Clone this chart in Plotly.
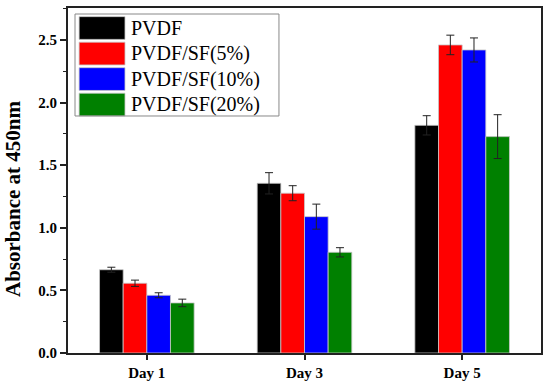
import plotly.graph_objects as go

days = ["Day 1", "Day 3", "Day 5"]
series_names = ["PVDF", "PVDF/SF(5%)", "PVDF/SF(10%)", "PVDF/SF(20%)"]
colors = ["#000000", "#ff0000", "#0000ff", "#008000"]
pvdf = [0.665, 1.355, 1.818]
pvdf_sf5 = [0.557, 1.276, 2.46]
pvdf_sf10 = [0.461, 1.089, 2.42]
pvdf_sf20 = [0.40, 0.804, 1.728]
err_pvdf = [0.02, 0.085, 0.077]
err_sf5 = [0.025, 0.06, 0.078]
err_sf10 = [0.02, 0.10, 0.096]
err_sf20 = [0.03, 0.037, 0.175]
y_ticks = [0.0, 0.5, 1.0, 1.5, 2.0, 2.5]

values = [pvdf, pvdf_sf5, pvdf_sf10, pvdf_sf20]
errors = [err_pvdf, err_sf5, err_sf10, err_sf20]

FONT = "Liberation Serif, Times New Roman, serif"

fig = go.Figure()
for name, col, v, e in zip(series_names, colors, values, errors):
    fig.add_trace(go.Bar(
        x=days, y=v, name=name,
        marker=dict(color=col, line=dict(color="#c8c8c8", width=0.8)),
        error_y=dict(type="data", array=e, visible=True, color="#222222",
                     thickness=1, width=4),
        showlegend=False,
    ))

# Manual legend (large colour patches like the original)
row_h = 0.074
top = 0.975
for i, (name, col) in enumerate(zip(series_names, colors)):
    y1 = top - i * row_h
    y0 = y1 - 0.066
    fig.add_shape(type="rect", xref="paper", yref="paper",
                  x0=0.0235, x1=0.1205, y0=y0, y1=y1,
                  fillcolor=col, line=dict(color="#c8c8c8", width=0.8))
    fig.add_annotation(xref="paper", yref="paper", x=0.128, y=(y0 + y1) / 2,
                       text=name, showarrow=False, xanchor="left", yanchor="middle",
                       font=dict(family=FONT, size=20, color="#000000"))
fig.add_shape(type="rect", xref="paper", yref="paper",
              x0=0.0148, x1=0.446, y0=0.687, y1=0.9826,
              line=dict(color="#888888", width=1), fillcolor="rgba(0,0,0,0)")

# Y-axis title (placed as in the original, slightly below centre)
fig.add_annotation(xref="paper", yref="paper", x=-0.1165, y=0.449,
                   text="<b>Absorbance at 450nm</b>", textangle=-90, showarrow=False,
                   xanchor="center", yanchor="middle",
                   font=dict(family=FONT, size=21, color="#000000"))

fig.update_layout(
    width=554, height=387,
    margin=dict(l=68, r=13, t=8, b=34, autoexpand=False),
    paper_bgcolor="white", plot_bgcolor="white",
    barmode="group", bargap=0.4, bargroupgap=0.0,
    font=dict(family=FONT, color="#000000"),
)
fig.update_xaxes(
    range=[-0.5, 2.5], showline=True, linecolor="#222222", linewidth=2,
    mirror=True, ticks="outside", ticklen=5, tickwidth=1.5, tickcolor="#222222",
    tickfont=dict(family=FONT, size=15, color="#000000", weight="bold"),
    showgrid=False, zeroline=False, automargin=False,
)
fig.update_yaxes(
    range=[0, 2.755], tickvals=y_ticks, ticktext=[f"{t:.1f}" for t in y_ticks],
    showline=True, linecolor="#222222", linewidth=2, mirror=True,
    ticks="outside", ticklen=6, tickwidth=1.5, tickcolor="#222222",
    minor=dict(ticks="outside", ticklen=3, tickwidth=1.2, tickcolor="#222222", dtick=0.25),
    tickfont=dict(family=FONT, size=15, color="#000000", weight="bold"),
    showgrid=False, zeroline=False, automargin=False,
)

# Remove the default 8px page margin so the figure fills the window exactly
fig.write_html("out.html",
               config={"displayModeBar": False},
               post_script="document.body.style.margin='0';document.body.style.padding='0';")
